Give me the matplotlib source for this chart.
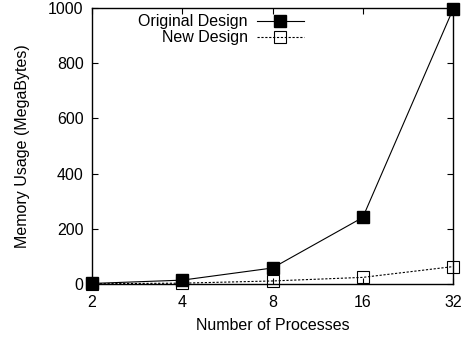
import matplotlib
matplotlib.use('Agg')
import matplotlib.pyplot as plt

plt.rcParams['font.family'] = ['Liberation Sans', 'DejaVu Sans']

processes = [2, 4, 8, 16, 32]
original = [2, 14, 58, 241, 995]
new_design = [1, 3, 11, 24, 63]

fig = plt.figure(figsize=(4.63, 3.39), dpi=100)
ax = fig.add_axes([92 / 463, 1 - 284 / 339, 361 / 463, 276 / 339])

ax.plot(processes, original, color='black', lw=0.8, marker='s', ms=8,
        mfc='black', mec='black', label='Original Design', clip_on=False, zorder=3)
ax.plot(processes, new_design, color='black', lw=0.8, ls=(0, (2, 1.5)), marker='s', ms=8,
        mfc='none', mec='black', mew=0.8, label='New Design', clip_on=False, zorder=3)

ax.set_xscale('log', base=2)
ax.set_xlim(2, 32)
ax.set_ylim(0, 1000)
ax.set_xticks(processes)
ax.set_xticklabels([str(p) for p in processes])
ax.minorticks_off()
ax.set_yticks([0, 200, 400, 600, 800, 1000])
ax.tick_params(direction='in', top=True, right=True, labelsize=11.5, length=4, width=0.8)
ax.tick_params(axis='x', pad=8)
ax.tick_params(axis='y', pad=6)
for s in ax.spines.values():
    s.set_linewidth(1.0)

ax.set_xlabel('Number of Processes', fontsize=11.5, labelpad=6)
ax.set_ylabel('Memory Usage (MegaBytes)', fontsize=11.5, labelpad=13)

ax.legend(loc='upper left', bbox_to_anchor=(0.11, 1.0), frameon=False, markerfirst=False,
          fontsize=11.5, handlelength=2.9, handletextpad=0.6, labelspacing=0.05,
          borderaxespad=0.0)

fig.savefig('out.png', dpi=100)
